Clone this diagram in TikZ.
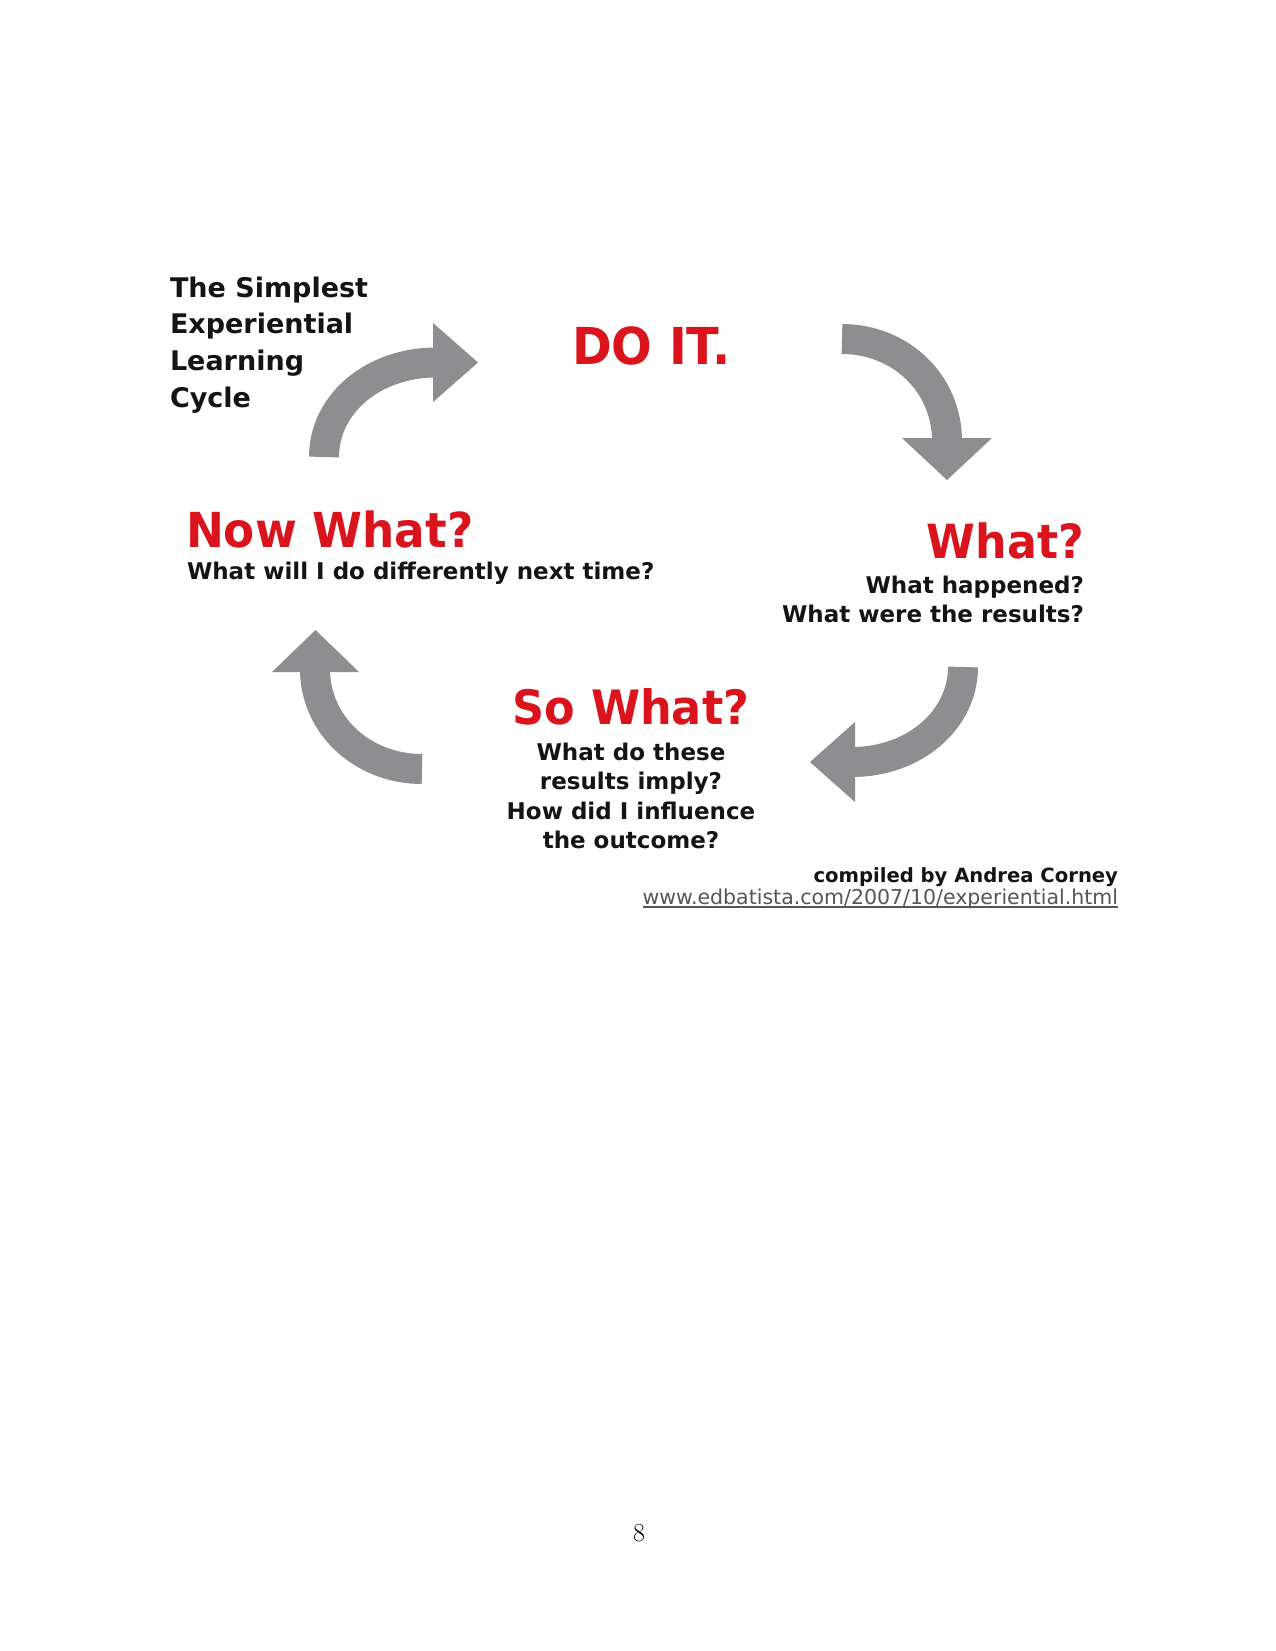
\documentclass[tikz,border=0pt]{standalone}
\usepackage{fontspec}
\newfontfamily\dv{DejaVu Sans}
\newfontfamily\dvhead[FakeStretch=0.94]{DejaVu Sans}
\definecolor{cyclered}{RGB}{218,20,28}
\definecolor{arrowgray}{RGB}{142,142,144}
\definecolor{textblack}{RGB}{20,20,20}
\definecolor{urlgray}{RGB}{85,85,90}
\tikzset{
  arrowshaft/.style={draw=arrowgray, line width=30pt},
  arrowhead/.style={fill=arrowgray},
  heading/.style={text=cyclered, inner sep=0pt, outer sep=0pt},
  subtext/.style={text=textblack, inner sep=0pt, outer sep=0pt},
}
\begin{document}
\begin{tikzpicture}[x=1pt,y=-1pt]
\useasboundingbox (0,0) rectangle (1275,1651);
\fill[white] (0,0) rectangle (1275,1651);

% title
\node[subtext, anchor=base west] (title) at (170,297)
  {\dv\bfseries\fontsize{27}{36.7}\selectfont\begin{tabular}[t]{@{}l@{}}The Simplest\\Experiential\\Learning\\Cycle\end{tabular}};

% headings
\node[heading, anchor=base west] (doit) at (572,364) {\dvhead\bfseries\fontsize{50.9}{60}\selectfont DO IT.};
\node[heading, anchor=base west] (now) at (186,547) {\dvhead\bfseries\fontsize{48.2}{58}\selectfont Now What?};
\node[heading, anchor=base east] (what) at (1084,558) {\dvhead\bfseries\fontsize{47.1}{58}\selectfont What?};
\node[heading, anchor=base] (so) at (631,724) {\dvhead\bfseries\fontsize{47.4}{58}\selectfont So What?};

% sub texts
\node[subtext, anchor=base west] (nowsub) at (187,579)
  {\dv\bfseries\fontsize{23}{29.5}\selectfont What will I do differently next time?};
\node[subtext, anchor=base east] (whatsub) at (1084,593)
  {\dv\bfseries\fontsize{23}{29.5}\selectfont\begin{tabular}[t]{@{}r@{}}What happened?\\What were the results?\end{tabular}};
\node[subtext, anchor=base] (sosub) at (631,760)
  {\dv\bfseries\fontsize{23}{29.5}\selectfont\begin{tabular}[t]{@{}c@{}}What do these\\results imply?\\How did I influence\\the outcome?\end{tabular}};

% credit
\node[subtext, anchor=base east] (credit) at (1118,882)
  {\dv\bfseries\fontsize{19.6}{24}\selectfont compiled by Andrea Corney};
\node[inner sep=0pt, outer sep=0pt, text=urlgray, anchor=base east] (url) at (1118,904)
  {\dv\fontsize{20.5}{24}\selectfont www.edbatista.com/2007/10/experiential.html};
\draw[urlgray, line width=1.3pt] ([yshift=-3pt]url.base west) -- ([yshift=-3pt]url.base east);

% arrows
% upper left: up and to the right
\draw[arrowshaft] (324,457) .. controls (324,404) and (373,362.5) .. (436,362.5);
\fill[arrowhead] (433,323) -- (478,362.5) -- (433,402) -- cycle;
% upper right: right and down
\draw[arrowshaft] (842,339) .. controls (900,339) and (947,383) .. (947,441);
\fill[arrowhead] (902,438) -- (947,480) -- (992,438) -- cycle;
% lower right: down and to the left
\draw[arrowshaft] (963,667) .. controls (963,719.5) and (914.6,762) .. (852,762);
\fill[arrowhead] (855,722) -- (810,762) -- (855,802) -- cycle;
% lower left: left and up
\draw[arrowshaft] (422,769) .. controls (363,769) and (315,725.6) .. (315,669);
\fill[arrowhead] (272,672) -- (315.5,630) -- (359,672) -- cycle;

% page number
\node[inner sep=0pt, anchor=base] (pagenum) at (639,1541) {\fontsize{26}{30}\selectfont 8};
\end{tikzpicture}
\end{document}
